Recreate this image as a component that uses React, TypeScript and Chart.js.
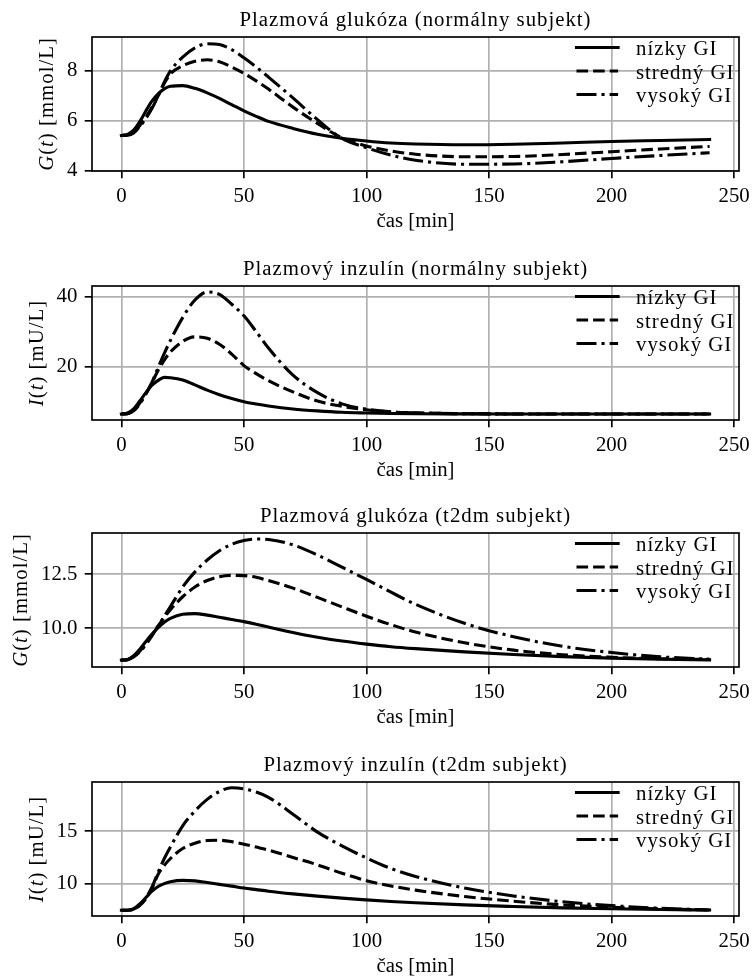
import React, { useEffect, useRef } from 'react';
import { Chart, registerables } from 'chart.js';

Chart.register(...registerables);

// ---------- data ----------
const TIME_MIN = [0, 2.5, 5, 7.5, 10, 12.5, 15, 17.5, 20, 25, 30, 35, 40, 45, 50, 55, 60, 70, 80, 90, 100, 110, 120, 140, 160, 180, 200, 220, 240];

const SERIES_LABELS = ['nízky GI', 'stredný GI', 'vysoký GI'];
const X_TICKS = [0, 50, 100, 150, 200, 250];
const X_TITLE = 'čas [min]';

// Plasma glucose, normal subject [mmol/L]
const G_NORMAL_LOW = [5.42, 5.46, 5.63, 5.97, 6.4, 6.8, 7.08, 7.28, 7.38, 7.41, 7.3, 7.12, 6.9, 6.65, 6.4, 6.18, 5.98, 5.7, 5.47, 5.31, 5.2, 5.12, 5.08, 5.05, 5.07, 5.12, 5.18, 5.22, 5.26];
const G_NORMAL_MID = [5.42, 5.44, 5.55, 5.82, 6.15, 6.55, 7.0, 7.5, 7.88, 8.2, 8.38, 8.44, 8.36, 8.15, 7.9, 7.6, 7.27, 6.55, 5.9, 5.32, 5.0, 4.8, 4.67, 4.57, 4.58, 4.66, 4.77, 4.88, 4.98];
const G_NORMAL_HIGH = [5.42, 5.43, 5.52, 5.78, 6.1, 6.5, 7.0, 7.55, 8.0, 8.55, 8.92, 9.08, 9.05, 8.85, 8.52, 8.15, 7.75, 6.92, 6.05, 5.3, 4.93, 4.63, 4.43, 4.27, 4.28, 4.37, 4.5, 4.62, 4.73];

// Plasma insulin, normal subject [mU/L]
const I_NORMAL_LOW = [6.5, 6.8, 8.0, 10.2, 12.6, 14.7, 16.1, 16.95, 16.85, 16.2, 14.8, 13.3, 12.0, 10.9, 10.0, 9.35, 8.8, 7.95, 7.4, 7.0, 6.8, 6.65, 6.58, 6.54, 6.52, 6.5, 6.5, 6.5, 6.5];
const I_NORMAL_MID = [6.5, 6.6, 7.5, 9.6, 12.3, 15.5, 19.0, 21.9, 24.2, 27.2, 28.5, 28.1, 26.4, 23.6, 20.3, 18.0, 16.0, 12.8, 10.2, 8.7, 7.7, 7.1, 6.85, 6.6, 6.52, 6.5, 6.5, 6.5, 6.5];
const I_NORMAL_HIGH = [6.5, 6.6, 7.4, 9.4, 12.2, 15.6, 19.8, 23.8, 27.5, 34.0, 39.0, 41.3, 40.6, 37.8, 34.5, 30.0, 25.3, 17.6, 12.6, 9.4, 7.9, 7.1, 6.8, 6.6, 6.52, 6.5, 6.5, 6.5, 6.5];

// Plasma glucose, t2dm subject [mmol/L]
const G_T2DM_LOW = [8.52, 8.55, 8.72, 9.02, 9.38, 9.72, 10.02, 10.27, 10.45, 10.64, 10.67, 10.6, 10.5, 10.4, 10.3, 10.18, 10.05, 9.8, 9.58, 9.4, 9.26, 9.14, 9.05, 8.9, 8.78, 8.68, 8.61, 8.56, 8.53];
const G_T2DM_MID = [8.52, 8.54, 8.68, 8.93, 9.28, 9.68, 10.1, 10.5, 10.85, 11.45, 11.9, 12.2, 12.38, 12.44, 12.43, 12.35, 12.2, 11.85, 11.42, 10.98, 10.55, 10.16, 9.82, 9.32, 8.98, 8.77, 8.65, 8.58, 8.55];
const G_T2DM_HIGH = [8.52, 8.54, 8.66, 8.9, 9.24, 9.65, 10.1, 10.55, 11.0, 11.9, 12.6, 13.15, 13.58, 13.88, 14.05, 14.12, 14.1, 13.85, 13.38, 12.82, 12.25, 11.66, 11.1, 10.22, 9.6, 9.16, 8.87, 8.67, 8.56];

// Plasma insulin, t2dm subject [mU/L]
const I_T2DM_LOW = [7.5, 7.5, 7.65, 8.1, 8.7, 9.3, 9.75, 10.02, 10.2, 10.33, 10.28, 10.12, 9.95, 9.78, 9.6, 9.45, 9.3, 9.05, 8.83, 8.64, 8.48, 8.33, 8.2, 8.0, 7.85, 7.72, 7.63, 7.56, 7.52];
const I_T2DM_MID = [7.5, 7.5, 7.6, 7.95, 8.6, 9.6, 10.9, 11.75, 12.4, 13.35, 13.85, 14.1, 14.13, 14.0, 13.75, 13.48, 13.2, 12.5, 11.8, 11.0, 10.3, 9.8, 9.4, 8.8, 8.35, 8.0, 7.78, 7.62, 7.52];
const I_T2DM_HIGH = [7.5, 7.5, 7.6, 7.95, 8.65, 9.7, 11.1, 12.4, 13.5, 15.5, 16.9, 18.0, 18.75, 19.1, 19.0, 18.7, 18.2, 16.6, 14.9, 13.6, 12.45, 11.45, 10.7, 9.6, 8.85, 8.3, 7.93, 7.68, 7.52];

const Y_TICKS_G_NORMAL = [4, 6, 8];
const Y_TICKS_I_NORMAL = [20, 40];
const Y_TICKS_G_T2DM = [10.0, 12.5];
const Y_TICKS_I_T2DM = [10, 15];

const TITLES = [
  'Plazmová glukóza (normálny subjekt)',
  'Plazmový inzulín (normálny subjekt)',
  'Plazmová glukóza (t2dm subjekt)',
  'Plazmový inzulín (t2dm subjekt)',
];

// ---------- panel config ----------
const PANELS = [
  { title: TITLES[0], yVar: 'G', yUnit: '[mmol/L]', series: [G_NORMAL_LOW, G_NORMAL_MID, G_NORMAL_HIGH], yTicks: Y_TICKS_G_NORMAL, yDec: 0, yMin: 4.0, yMax: 9.35, top: 0 },
  { title: TITLES[1], yVar: 'I', yUnit: '[mU/L]', series: [I_NORMAL_LOW, I_NORMAL_MID, I_NORMAL_HIGH], yTicks: Y_TICKS_I_NORMAL, yDec: 0, yMin: 4.8, yMax: 43.0, top: 249 },
  { title: TITLES[2], yVar: 'G', yUnit: '[mmol/L]', series: [G_T2DM_LOW, G_T2DM_MID, G_T2DM_HIGH], yTicks: Y_TICKS_G_T2DM, yDec: 1, yMin: 8.2, yMax: 14.4, top: 496 },
  { title: TITLES[3], yVar: 'I', yUnit: '[mU/L]', series: [I_T2DM_LOW, I_T2DM_MID, I_T2DM_HIGH], yTicks: Y_TICKS_I_T2DM, yDec: 0, yMin: 6.95, yMax: 19.65, top: 745 },
];

// ---------- styling ----------
const FONT_FAMILY = '"Liberation Serif", "Times New Roman", serif';
const FONT_PX = 20.8;
const TEXT_SPACING = '1px';
const LINE_W = 3.1;
const AX_W = 1.67;
const TICK_LEN = 7.3;
const TICK_PAD = 7.3;
const DASHES = [[], [11.6, 5.0], [20.0, 5.0, 3.1, 5.0]];
const CAPS = ['square', 'butt', 'butt'];
const CANVAS_W = 752;
const CANVAS_H = 232;

function makeOverlay(panel: any) {
  return {
    id: 'mplOverlay',
    afterDatasetsDraw(chart: any) {
      const { ctx, chartArea: a } = chart;
      ctx.save();
      // frame (spines)
      ctx.setLineDash([]);
      ctx.strokeStyle = '#000';
      ctx.lineWidth = AX_W;
      ctx.strokeRect(a.left, a.top, a.right - a.left, a.bottom - a.top);
      // legend (upper right, no frame)
      ctx.font = `${FONT_PX}px ${FONT_FAMILY}`;
      (ctx as any).letterSpacing = TEXT_SPACING;
      ctx.fillStyle = '#000';
      ctx.textAlign = 'left';
      ctx.textBaseline = 'alphabetic';
      chart.data.datasets.forEach((ds: any, i: number) => {
        const y = a.top + 10.5 + i * 23.5;
        const x0 = a.right - 162.5;
        const x1 = x0 + 41.6;
        ctx.beginPath();
        ctx.lineWidth = ds.borderWidth;
        ctx.strokeStyle = ds.borderColor;
        ctx.lineCap = ds.borderCapStyle;
        ctx.setLineDash(ds.borderDash || []);
        ctx.moveTo(x0, y);
        ctx.lineTo(x1, y);
        ctx.stroke();
        ctx.setLineDash([]);
        ctx.fillText(ds.label, a.right - 103, y + 7.5);
      });
      ctx.restore();
    },
    afterDraw(chart: any) {
      const { ctx, chartArea: a } = chart;
      ctx.save();
      ctx.fillStyle = '#000';
      // y label position from widest tick label (measured without spacing)
      ctx.font = `${FONT_PX}px ${FONT_FAMILY}`;
      const ys = chart.scales.y;
      let maxW = 0;
      ys.ticks.forEach((t: any) => {
        const w = ctx.measureText(String(t.label)).width;
        if (w > maxW) maxW = w;
      });
      (ctx as any).letterSpacing = TEXT_SPACING;
      // title
      ctx.textAlign = 'center';
      ctx.textBaseline = 'alphabetic';
      ctx.fillText(panel.title, (a.left + a.right) / 2, a.top - 11.5);
      // y label with italic variable
      const labelsLeft = a.left - TICK_LEN - TICK_PAD - maxW;
      const cx = labelsLeft - 8.3 - 10.4;
      const cy = (a.top + a.bottom) / 2;
      const segs = [
        { t: panel.yVar, it: true },
        { t: '(', it: false },
        { t: 't', it: true },
        { t: ') ' + panel.yUnit, it: false },
      ];
      const fontOf = (it: boolean) => `${it ? 'italic ' : ''}${FONT_PX}px ${FONT_FAMILY}`;
      let total = 0;
      const widths = segs.map((s) => {
        ctx.font = fontOf(s.it);
        const w = ctx.measureText(s.t).width;
        total += w;
        return w;
      });
      ctx.translate(cx, cy);
      ctx.rotate(-Math.PI / 2);
      ctx.textAlign = 'left';
      let x = -total / 2;
      segs.forEach((s, i) => {
        ctx.font = fontOf(s.it);
        ctx.fillText(s.t, x, 5);
        x += widths[i];
      });
      ctx.restore();
    },
  };
}

function Panel({ panel }: { panel: any }) {
  const ref = useRef<HTMLCanvasElement | null>(null);
  useEffect(() => {
    if (!ref.current) return;
    const font = { family: FONT_FAMILY, size: FONT_PX, lineHeight: 1.2 };
    const chart = new Chart(ref.current, {
      type: 'line',
      data: {
        datasets: panel.series.map((vals: number[], i: number) => ({
          label: SERIES_LABELS[i],
          data: TIME_MIN.map((t, k) => ({ x: t, y: vals[k] })),
          borderColor: '#000',
          borderWidth: LINE_W,
          borderDash: DASHES[i],
          borderCapStyle: CAPS[i],
          borderJoinStyle: 'round',
          pointRadius: 0,
          fill: false,
          cubicInterpolationMode: 'monotone',
        })),
      },
      options: {
        responsive: false,
        animation: false,
        devicePixelRatio: 1,
        layout: { padding: { top: 37, right: 13, bottom: 0, left: 0 } },
        plugins: { legend: { display: false }, tooltip: { enabled: false }, title: { display: false } },
        scales: {
          x: {
            type: 'linear',
            min: -12,
            max: 252,
            bounds: 'data',
            afterBuildTicks: (s: any) => { s.ticks = X_TICKS.map((v) => ({ value: v })); },
            afterFit: (s: any) => { s.height = CANVAS_H - 171; s.paddingLeft = 0; s.paddingRight = 0; },
            grid: { color: '#b0b0b0', lineWidth: AX_W, tickColor: '#000', tickWidth: AX_W, tickLength: TICK_LEN, drawTicks: true },
            border: { display: false },
            ticks: { color: '#000', font, padding: 5.7, maxRotation: 0, minRotation: 0, autoSkip: false, callback: (v: any) => String(v) },
            title: { display: true, text: X_TITLE, color: '#000', font: { family: FONT_FAMILY, size: FONT_PX, lineHeight: 1 }, padding: { top: 0, bottom: 0 } },
          },
          y: {
            type: 'linear',
            min: panel.yMin,
            max: panel.yMax,
            bounds: 'data',
            afterBuildTicks: (s: any) => { s.ticks = panel.yTicks.map((v: number) => ({ value: v })); },
            afterFit: (s: any) => { s.width = 92; s.paddingTop = 0; s.paddingBottom = 0; },
            grid: { color: '#b0b0b0', lineWidth: AX_W, tickColor: '#000', tickWidth: AX_W, tickLength: TICK_LEN, drawTicks: true },
            border: { display: false },
            ticks: { color: '#000', font, padding: TICK_PAD, autoSkip: false, callback: (v: any) => Number(v).toFixed(panel.yDec) },
          },
        },
      } as any,
      plugins: [makeOverlay(panel)],
    } as any);
    return () => chart.destroy();
  }, [panel]);
  return (
    <div style={{ position: 'absolute', left: 0, top: panel.top, width: CANVAS_W, height: CANVAS_H }}>
      <canvas ref={ref} width={CANVAS_W} height={CANVAS_H} style={{ width: CANVAS_W, height: CANVAS_H, display: 'block' }} />
    </div>
  );
}

export default function App() {
  return (
    <div style={{ position: 'absolute', left: 0, top: 0, width: 752, height: 977, background: '#fff', overflow: 'hidden' }}>
      {PANELS.map((p, i) => (
        <Panel key={i} panel={p} />
      ))}
    </div>
  );
}
